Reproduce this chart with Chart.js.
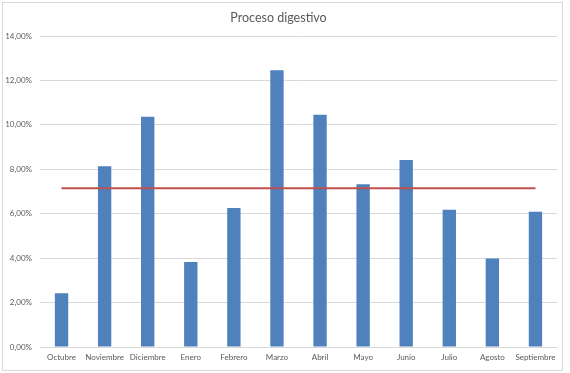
<!DOCTYPE html>
<html>
<head>
<meta charset="utf-8">
<script src="https://cdn.jsdelivr.net/npm/chart.js@4/dist/chart.umd.min.js"></script>
<style>
  html, body { margin: 0; padding: 0; background: #fff; }
  #wrap { width: 570px; height: 373px; position: relative; }
</style>
</head>
<body>
<div id="wrap"><canvas id="myChart"></canvas></div>
<script>
// months shown on the x axis
const meses = ['Octubre', 'Noviembre', 'Diciembre', 'Enero', 'Febrero', 'Marzo',
               'Abril', 'Mayo', 'Junio', 'Julio', 'Agosto', 'Septiembre'];
// percentage per month (bars)
const valores = [2.42, 8.14, 10.37, 3.83, 6.26, 12.46, 10.45, 7.33, 8.42, 6.18, 3.98, 6.09];
// average line
const promedio = 7.15;
const lineaPromedio = meses.map(() => promedio);

const yMax = 14;
const yStep = 2;

// light frame round the whole chart, like the Excel chart area
const framePlugin = {
    id: 'frame',
    beforeDraw(chart) {
        const c = chart.ctx;
        c.save();
        c.fillStyle = '#ffffff';
        c.fillRect(0, 0, chart.width, chart.height);
        c.strokeStyle = '#d9d9d9';
        c.lineWidth = 1;
        c.strokeRect(2.5, 2.5, 560, 368);
        c.restore();
    }
};

const ctx = document.getElementById('myChart').getContext('2d');
const chart = new Chart(ctx, {
    type: 'bar',
    data: {
        labels: meses,
        datasets: [
            {
                type: 'line',
                label: 'Promedio',
                data: lineaPromedio,
                borderColor: '#c0504d',
                borderWidth: 2,
                pointRadius: 0,
                fill: false,
                order: 0
            },
            {
                label: 'Proceso digestivo',
                data: valores,
                backgroundColor: '#4f81bd',
                categoryPercentage: 1,
                barPercentage: 0.31,
                order: 1
            }
        ]
    },
    options: {
        responsive: true,
        maintainAspectRatio: false,
        animation: false,
        layout: { padding: { left: 0, right: 13, top: 0, bottom: 0 } },
        plugins: {
            legend: { display: false },
            tooltip: { enabled: false },
            title: {
                display: true,
                text: 'Proceso digestivo',
                color: '#595959',
                font: { family: 'Lato', size: 12.5, weight: 'normal' },
                padding: { top: 10, bottom: 11 }
            }
        },
        scales: {
            x: {
                grid: { display: false, drawTicks: false },
                border: { color: '#d9d9d9' },
                ticks: {
                    color: '#595959',
                    font: { family: 'Lato', size: 8 },
                    padding: 6,
                    maxRotation: 0,
                    autoSkip: false
                },
                afterFit(scale) { scale.height = 26; }
            },
            y: {
                min: 0,
                max: yMax,
                grid: { color: '#d9d9d9', drawTicks: false },
                border: { display: false },
                ticks: {
                    stepSize: yStep,
                    color: '#595959',
                    font: { family: 'Lato', size: 8 },
                    padding: 8,
                    callback: v => v.toFixed(2).replace('.', ',') + '%'
                },
                afterFit(scale) { scale.width = 40; }
            }
        }
    },
    plugins: [framePlugin]
});
</script>
</body>
</html>
